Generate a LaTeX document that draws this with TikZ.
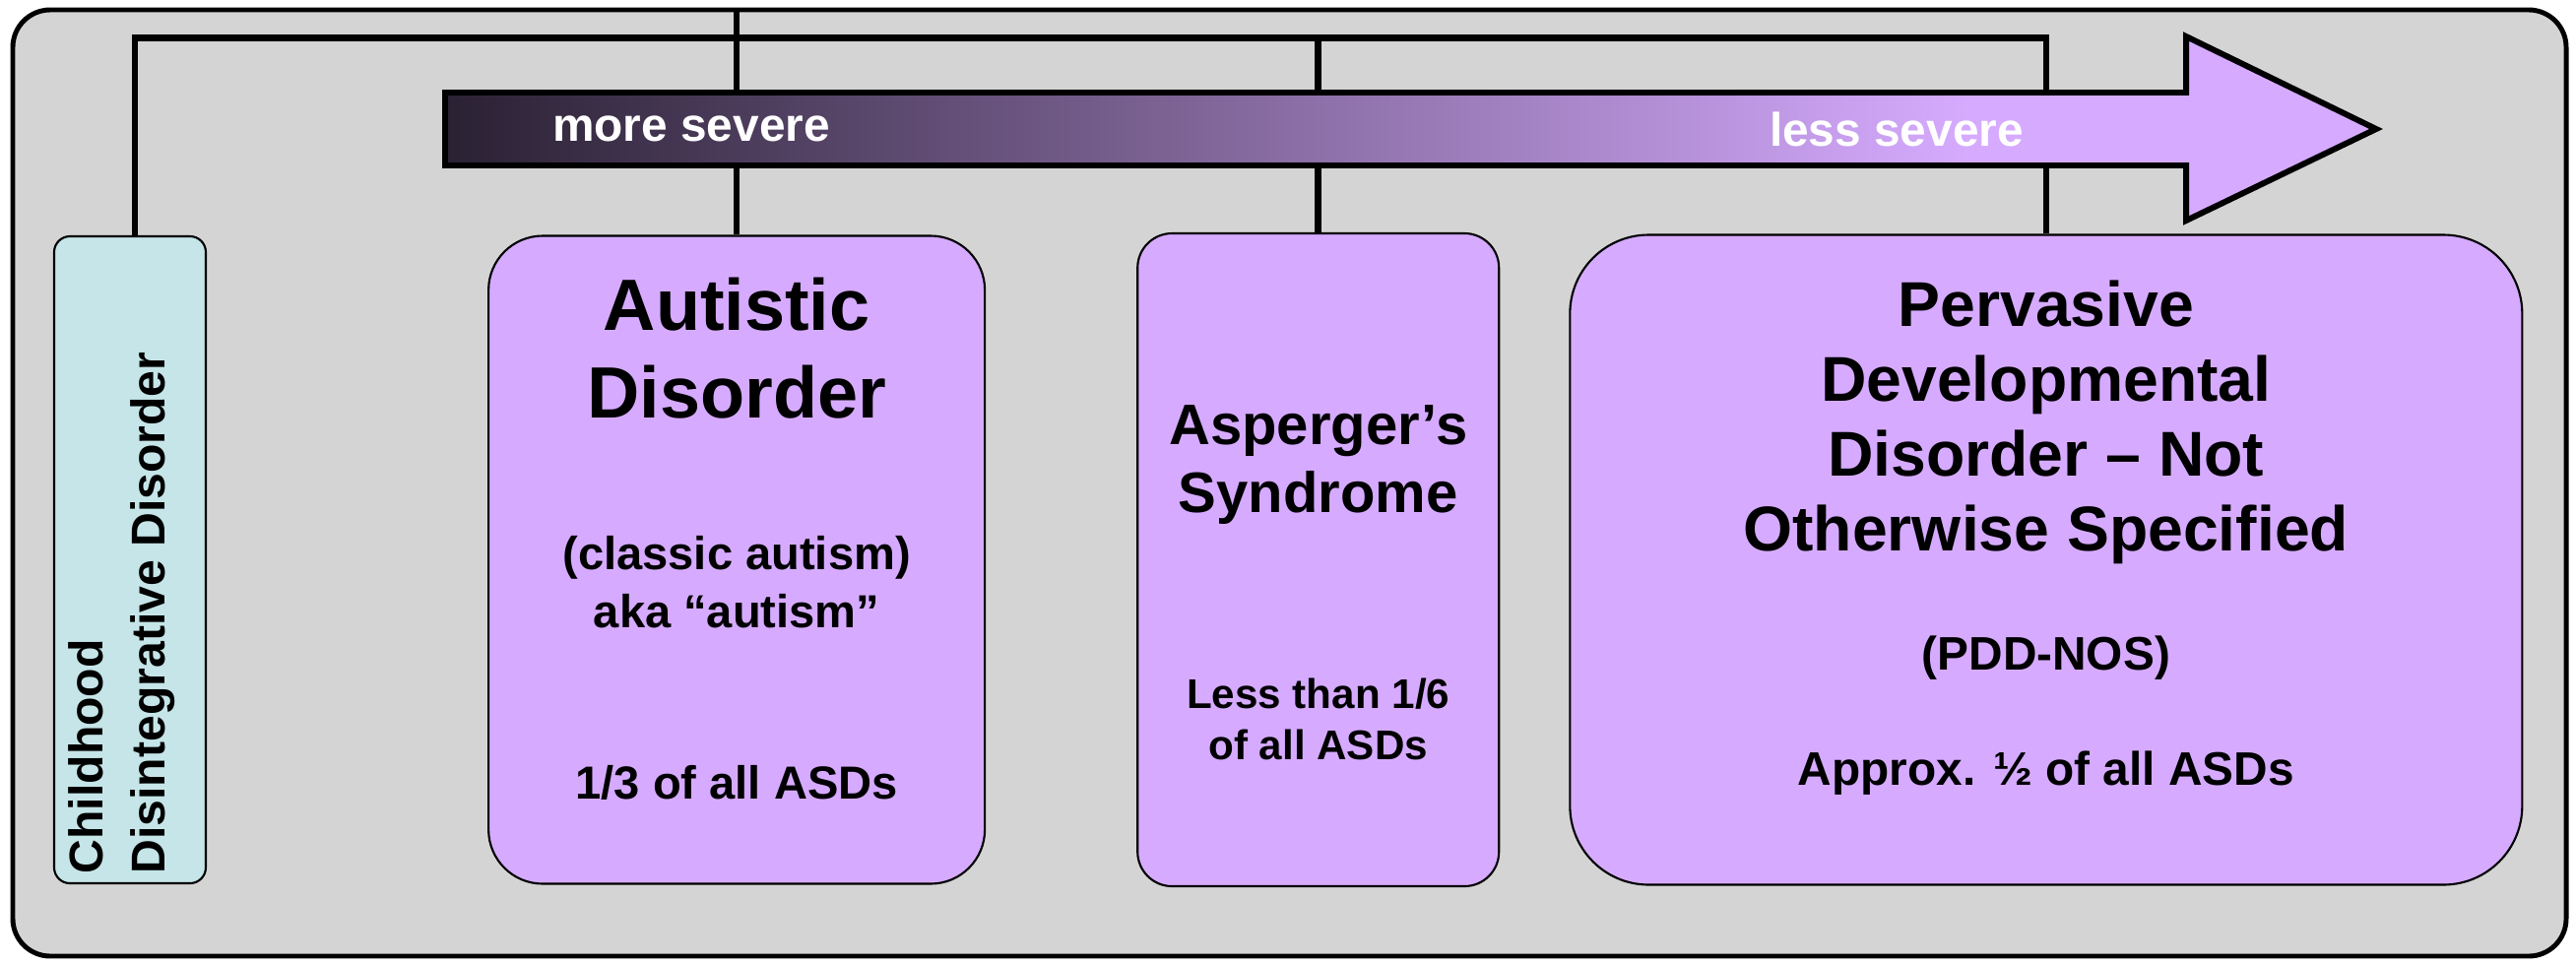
\documentclass[tikz,border=0pt]{standalone}
\usepackage{fontspec}
\setmainfont{Liberation Sans}
\usetikzlibrary{positioning}
\definecolor{panelgray}{HTML}{D4D4D4}
\definecolor{lavender}{HTML}{D6ABFF}
\definecolor{paleteal}{HTML}{C5E5E8}
\definecolor{plumdark}{HTML}{2A2133}
\pgfdeclarehorizontalshading{severity}{100bp}{color(0bp)=(plumdark); color(25bp)=(plumdark); color(64.5bp)=(lavender); color(100bp)=(lavender)}
\tikzset{
    frame/.style={
        rectangle, rounded corners=0.38cm, draw=black, line width=1.4pt, fill=panelgray
    },
    disorder/.style={
        rectangle, draw=black, line width=0.6pt, fill=lavender
    },
    cddbox/.style={
        rectangle, rounded corners=0.16cm, draw=black, line width=0.6pt, fill=paleteal
    },
    boxtext/.style={
        inner sep=0pt, align=center
    },
    link/.style={
        line width=1.85pt, draw=black
    }
}

\begin{document}
\begin{tikzpicture}

    \useasboundingbox (0,0) rectangle (26.16,-9.78);

    % Panel
    \node[frame, minimum width=25.93cm, minimum height=9.61cm] (frame) at (13.095,-4.905) {};

    % Disorder boxes
    \node[cddbox, minimum width=1.54cm, minimum height=6.57cm] (cdd) at (1.32,-5.685) {};
    \node[disorder, rounded corners=0.55cm, minimum width=5.04cm, minimum height=6.58cm, right=2.85cm of cdd] (aut) {};
    \node[disorder, rounded corners=0.35cm, minimum width=3.67cm, minimum height=6.63cm, right=1.53cm of aut] (asp) {};
    \node[disorder, rounded corners=0.8cm, minimum width=9.67cm, minimum height=6.6cm, right=0.70cm of asp] (pdd) {};

    % Box texts
    \node[boxtext, rotate=90, anchor=north west, align=left, font=\bfseries\fontsize{13.7}{17.9}\selectfont] (cddT) at ([xshift=0.15cm, yshift=0.1cm]cdd.south west) {Childhood\\Disintegrative Disorder};
    \node[boxtext, font=\bfseries\fontsize{21}{25.3}\selectfont, below=0.43cm of aut.north] (autT) {Autistic\\Disorder};
    \node[boxtext, font=\bfseries\fontsize{13.4}{16.8}\selectfont, below=3.05cm of aut.north] (autN) {(classic autism)\\aka “autism”\\[1.15cm]1/3 of all ASDs};
    \node[boxtext, font=\bfseries\fontsize{16.5}{19.6}\selectfont, below=1.75cm of asp.north] (aspT) {Asperger’s\\Syndrome};
    \node[boxtext, font=\bfseries\fontsize{12}{14.8}\selectfont, below=4.52cm of asp.north] (aspN) {Less than 1/6\\of all ASDs};
    \node[boxtext, font=\bfseries\fontsize{18.3}{21.6}\selectfont, below=0.47cm of pdd.north] (pddT) {Pervasive\\Developmental\\Disorder – Not\\Otherwise Specified};
    \node[boxtext, font=\bfseries\fontsize{13.6}{16.3}\selectfont, below=4.08cm of pdd.north] (pddN) {(PDD-NOS)\\[17pt]Approx. ½ of all ASDs};

    % Connectors
    \coordinate (bus) at (0,-0.385);
    \draw[link] ([xshift=0.05cm]cdd.north) |- (bus -| pdd.north) -- (pdd.north);
    \draw[link] (bus -| asp.north) -- (asp.north);
    \draw[link] (frame.north -| aut.north) -- (aut.north);

    % Severity arrow
    \shadedraw[shading=severity, line width=1.7pt] (4.52,-0.94) -- (22.2,-0.94) -- (22.2,-0.37) -- (24.13,-1.31) -- (22.2,-2.24) -- (22.2,-1.68) -- (4.52,-1.68) -- cycle;
    \node[text=white, inner sep=0pt, font=\bfseries\fontsize{13.6}{16.3}\selectfont] (moresev) at (7.02,-1.31) {more severe};
    \node[text=white, inner sep=0pt, font=\bfseries\fontsize{13.6}{16.3}\selectfont] (lesssev) at (19.26,-1.31) {less severe};

\end{tikzpicture}
\end{document}
